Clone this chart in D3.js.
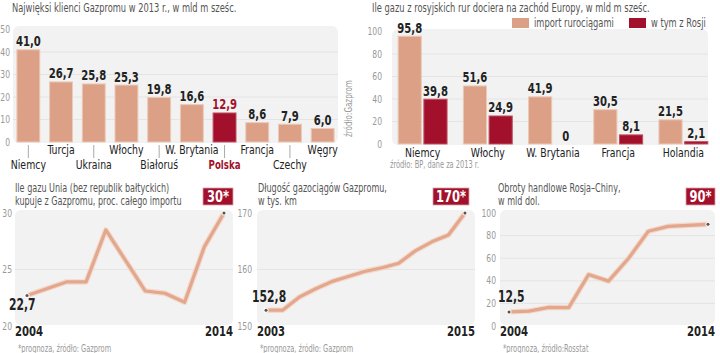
<!DOCTYPE html>
<html><head><meta charset="utf-8">
<script src="https://cdn.jsdelivr.net/npm/d3@7"></script>
<style>
html,body{margin:0;padding:0;background:#fff;}
svg{display:block;}
.narrow{font-family:"DejaVu Sans Condensed","Roboto",sans-serif;}
.bold{font-family:"DejaVu Sans Condensed","Roboto",sans-serif;font-weight:bold;}
</style></head>
<body>
<svg id="c" width="720" height="353"></svg>
<script>
// ---- data ----
const clientsCategories = ["Niemcy","Turcja","Ukraina","Włochy","Białoruś","W. Brytania","Polska","Francja","Czechy","Węgry"];
const clientsValues = [41.0,26.7,25.8,25.3,19.8,16.6,12.9,8.6,7.9,6.0];
const clientsTicks = [0,10,20,30,40,50];

const pipeCategories = ["Niemcy","Włochy","W. Brytania","Francja","Holandia"];
const pipeImport = [95.8,51.6,41.9,30.5,21.5];
const pipeRussia = [39.8,24.9,0,8.1,2.1];
const pipeTicks = [0,20,40,60,80,100];
const pipeLegend = ["import rurociągami","w tym z Rosji"];

const euYears = [2004,2005,2006,2007,2008,2009,2010,2011,2012,2013,2014];
const euShare = [22.7,23.3,23.9,23.9,28.5,25.8,23.1,22.9,22.1,27.0,30];
const euTicks = [20,25,30];

const lenYears = [2003,2004,2005,2006,2007,2008,2009,2010,2011,2012,2013,2014,2015];
const lenValues = [152.8,152.8,155.1,156.6,157.9,158.8,159.7,160.3,161.1,163.3,164.9,166.1,170];
const lenTicks = [150,160,170];

const tradeYears = [2004,2005,2006,2007,2008,2009,2010,2011,2012,2013,2014];
const tradeValues = [12.5,13.2,16.5,16.3,45.5,39.7,59.7,83.8,88.2,89.1,90];
const tradeTicks = [0,20,40,60,80,100];

// ---- styles ----
const SALMON = "#dba085", SALMON_EDGE = "#ecc9b8", RED = "#a3102b", DARK = "#222", GRAY = "#999", TGRAY = "#555", BG = "#f2f2f2";
const SXN = 0.74, SXB = 0.8;
const fmt = v => d3.format(".1f")(v).replace(".", ",");
const svg = d3.select("#c");
const tf = (x,y,s) => `translate(${x},${y}) scale(${s},1)`;

function txt(x, y, str, o) {
  o = o || {};
  const bold = !!o.bold;
  return svg.append("text").attr("class", bold?"bold":"narrow")
    .attr("transform", tf(x,y,o.sx || (bold?SXB:SXN)))
    .attr("text-anchor", o.anchor || "start")
    .attr("font-size", o.size || 12).attr("fill", o.fill || DARK).text(str);
}
function title(x, y, lines, size, sx) {
  lines.forEach((l,i)=> txt(x, y + i*12.5, l, {size:size||12.5, fill:TGRAY, sx:sx}));
}
function yLabels(scale, ticks, x) {
  svg.append("g").selectAll("text").data(ticks).join("text")
    .attr("class","narrow").attr("transform",d=>tf(x, scale(d)+3.5, 0.85))
    .attr("text-anchor","end").attr("font-size",10).attr("fill",GRAY).text(d=>d);
}
function plotBg(x0,y0,x1,y1,scale,ticks){
  svg.append("rect").attr("x",x0).attr("y",y0).attr("width",x1-x0).attr("height",y1-y0)
    .attr("rx",6).attr("fill",BG);
  svg.append("g").selectAll("line").data(ticks).join("line")
    .attr("x1",x0).attr("x2",x1).attr("y1",d=>scale(d)).attr("y2",d=>scale(d))
    .attr("stroke","#e4e4e4").attr("stroke-width",1);
}

// ===== Chart A: clients =====
title(12, 12, ["Najwięksi klienci Gazpromu w 2013 r., w mld m sześc."]);
const yA = d3.scaleLinear().domain([0,50]).range([142,29.5]);
const xA = d3.scaleBand().domain(clientsCategories).range([12,339]).paddingInner(0.3).paddingOuter(0.15);
plotBg(13,26,338,143,yA,clientsTicks.slice(1,-1));
yLabels(yA, clientsTicks, 10);
const gA = svg.append("g");
const cxA = d => xA(d)+xA.bandwidth()/2;
gA.selectAll("rect.bar").data(clientsCategories).join("rect").attr("class","bar")
  .attr("x",d=>xA(d)).attr("width",xA.bandwidth())
  .attr("y",(d,i)=>yA(clientsValues[i])).attr("height",(d,i)=>yA(0)-yA(clientsValues[i]))
  .attr("fill",d=>d==="Polska"?RED:SALMON).attr("stroke",d=>d==="Polska"?"#c05060":SALMON_EDGE).attr("stroke-width",1);
gA.selectAll("text.val").data(clientsCategories).join("text").attr("class","bold val")
  .attr("transform",(d,i)=>tf(cxA(d), yA(clientsValues[i])-3.5, SXB))
  .attr("text-anchor","middle").attr("font-size",14).attr("fill",d=>d==="Polska"?RED:DARK)
  .text((d,i)=>fmt(clientsValues[i]));
gA.selectAll("line.tick").data(clientsCategories.filter((d,i)=>i%2===0)).join("line").attr("class","tick")
  .attr("x1",cxA).attr("x2",cxA).attr("y1",145).attr("y2",158).attr("stroke","#aaa");
gA.selectAll("text.cat").data(clientsCategories).join("text")
  .attr("class",d=>d==="Polska"?"bold cat":"narrow cat")
  .attr("transform",(d,i)=>tf(cxA(d), i%2===0?169:154, d==="Polska"?SXB:0.8))
  .attr("text-anchor","middle").attr("font-size",d=>d==="Polska"?12:13)
  .attr("fill",d=>d==="Polska"?RED:DARK).text(d=>d);
svg.append("text").attr("class","narrow").attr("transform","translate(352,137) rotate(-90) scale(0.8,1)")
  .attr("font-size",10).attr("fill",GRAY).text("źródło:Gazprom");

// ===== Chart B: pipelines =====
title(372, 12, ["Ile gazu z rosyjskich rur dociera na zachód Europy, w mld m sześc."]);
const yB = d3.scaleLinear().domain([0,100]).range([144,31.5]);
const xB = d3.scaleBand().domain(pipeCategories).range([390,716]).paddingInner(0.25).paddingOuter(0.125);
const xB1 = d3.scaleBand().domain([0,1]).range([0,xB.bandwidth()]).padding(0.1).paddingOuter(0);
plotBg(392,29,708,145,yB,pipeTicks.slice(1,-1));
yLabels(yB, pipeTicks, 382);
const pipeRows = pipeCategories.map((c,i)=>({c, vals:[pipeImport[i],pipeRussia[i]]}));
const gB = svg.append("g").selectAll("g").data(pipeRows).join("g").attr("transform",d=>`translate(${xB(d.c)},0)`);
gB.selectAll("rect").data(d=>d.vals.map((v,k)=>({v,k}))).join("rect")
  .attr("x",d=>xB1(d.k)).attr("width",xB1.bandwidth())
  .attr("y",d=>yB(d.v)).attr("height",d=>yB(0)-yB(d.v))
  .attr("fill",d=>d.k?RED:SALMON).attr("stroke",d=>d.k?"#c05060":SALMON_EDGE);
gB.selectAll("text").data(d=>d.vals.map((v,k)=>({v,k}))).join("text").attr("class","bold")
  .attr("transform",d=>tf(xB1(d.k)+xB1.bandwidth()/2, yB(d.v)-3.5, SXB))
  .attr("text-anchor","middle").attr("font-size",14).attr("fill",DARK)
  .text(d=>d.v===0?"0":fmt(d.v));
svg.append("g").selectAll("text").data(pipeCategories).join("text").attr("class","narrow")
  .attr("transform",d=>tf(xB(d)+xB.bandwidth()/2, 156.5, 0.8)).attr("text-anchor","middle")
  .attr("font-size",13).attr("fill",DARK).text(d=>d);
const legX = [512,629];
pipeLegend.forEach((l,i)=>{
  svg.append("rect").attr("x",legX[i]).attr("y",18).attr("width",17).attr("height",10).attr("fill",i?RED:SALMON);
  txt(legX[i]+22, 26.5, l, {size:12.5, fill:TGRAY});
});
txt(390, 168, "źródło: BP, dane za 2013 r.", {size:10, fill:GRAY});

// ===== Line charts =====
function lineChart(o){
  const y = d3.scaleLinear().domain(o.domain).range([326,213]);
  const x = d3.scaleLinear().domain([o.years[0],o.years[o.years.length-1]]).range([o.px0,o.px1]);
  title(o.tx, 192, o.title, 11.5, 0.78);
  plotBg(o.bx0,210,o.bx1,325,y,o.ticks.slice(1,-1));
  yLabels(y,o.ticks,o.lx);
  const line = d3.line().x((d,i)=>x(o.years[i])).y(d=>y(d));
  svg.append("path").attr("d",line(o.values)).attr("fill","none").attr("stroke","#f3d9cc").attr("stroke-width",5.5).attr("stroke-linejoin","round");
  svg.append("path").attr("d",line(o.values)).attr("fill","none").attr("stroke","#e2a78d").attr("stroke-width",3.2).attr("stroke-linejoin","round");
  [0,o.values.length-1].forEach(i=>{
    svg.append("circle").attr("cx",x(o.years[i])).attr("cy",y(o.values[i])).attr("r",2.6).attr("fill","#fff").attr("opacity",0.8);
    svg.append("circle").attr("cx",x(o.years[i])).attr("cy",y(o.values[i])).attr("r",1.5).attr("fill","#555");
  });
  txt(o.sx, o.sy, fmt(o.values[0]), {bold:true, size:15});
  txt(o.bx0, 335.5, o.years[0], {bold:true, size:14});
  txt(o.bx1, 335.5, o.years[o.years.length-1], {bold:true, size:14, anchor:"end"});
  svg.append("rect").attr("x",o.rx0).attr("y",188).attr("width",o.rx1-o.rx0).attr("height",17).attr("fill",RED).attr("stroke","#d9a0a8").attr("stroke-width",0.8);
  txt((o.rx0+o.rx1)/2, 202, o.end, {bold:true, size:16, anchor:"middle", fill:"#fff"});
  txt(o.bx0+3, 351.5, o.src, {size:10, fill:GRAY});
}
lineChart({years:euYears, values:euShare, domain:[20,30], ticks:euTicks, px0:27, px1:224, bx0:15, bx1:233, lx:12, tx:15,
  title:["Ile gazu Unia (bez republik bałtyckich)","kupuje z Gazpromu, proc. całego importu"], sx:9, sy:310, rx0:203, rx1:233, end:"30*", src:"*prognoza, źródło: Gazprom"});
lineChart({years:lenYears, values:lenValues, domain:[150,170], ticks:lenTicks, px0:266, px1:465, bx0:257, bx1:475, lx:252, tx:258,
  title:["Długość gazociągów Gazpromu,","w tys. km"], sx:252, sy:302, rx0:433, rx1:469, end:"170*", src:"*prognoza, źródło: Gazprom"});
lineChart({years:tradeYears, values:tradeValues, domain:[0,100], ticks:tradeTicks, px0:509, px1:708, bx0:500, bx1:715, lx:496, tx:498,
  title:["Obroty handlowe Rosja–Chiny,","w mld dol."], sx:498, sy:302, rx0:686, rx1:715, end:"90*", src:"*prognoza, źródło:Rosstat"});
</script>
</body></html>
